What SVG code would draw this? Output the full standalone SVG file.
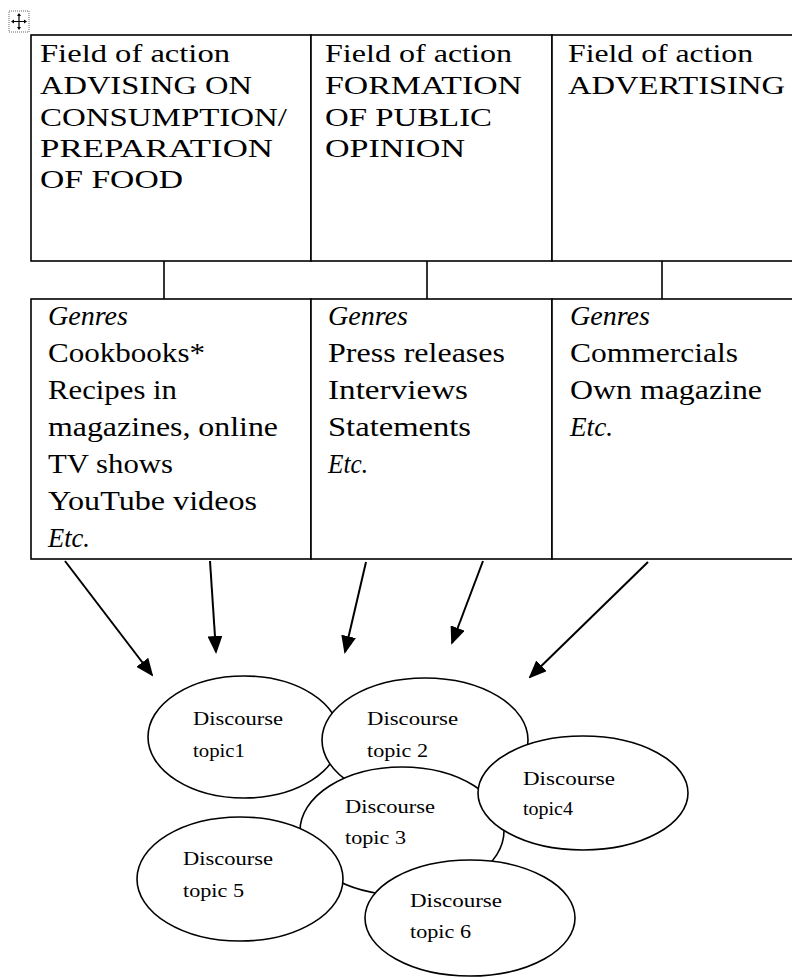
<svg xmlns="http://www.w3.org/2000/svg" width="792" height="978" viewBox="0 0 792 978">
<style>
.cell{fill:#fff;stroke:#000;stroke-width:1.6}
.ell{fill:#fff;stroke:#000;stroke-width:1.6}
.t{font-family:"Liberation Serif",serif;font-size:26px;fill:#000}
.g{font-family:"Liberation Serif",serif;font-size:28px;fill:#000}
.i{font-style:italic}
.d{font-family:"Liberation Serif",serif;font-size:19px;fill:#000}
.ln{stroke:#000;stroke-width:1.6;fill:none}
.ar{stroke:#000;stroke-width:2;fill:none;marker-end:url(#ah)}
</style>
<defs>
<marker id="ah" markerWidth="18" markerHeight="15" refX="16" refY="7.5" orient="auto" markerUnits="userSpaceOnUse">
<path d="M0,0 L18,7.5 L0,15 Z" fill="#000"/>
</marker>
</defs>
<rect width="792" height="978" fill="#fff"/>
<g id="move-handle">
<rect x="9" y="11" width="20" height="21" fill="none" stroke="#666" stroke-width="1" stroke-dasharray="1,1"/>
<path d="M19,14 V29 M12,21.5 H26" stroke="#000" stroke-width="1.2"/>
<path d="M19,13 L17,16 L21,16 Z M19,30 L17,27 L21,27 Z M11,21.5 L14,19.5 L14,23.5 Z M27,21.5 L24,19.5 L24,23.5 Z" fill="#000"/>
</g>
<g id="connectors">
<line class="ln" x1="164" y1="261" x2="164" y2="299"/>
<line class="ln" x1="427" y1="261" x2="427" y2="299"/>
<line class="ln" x1="662" y1="261" x2="662" y2="299"/>
<line class="ar" x1="65" y1="561" x2="152" y2="675"/>
<line class="ar" x1="210" y1="561" x2="216" y2="652"/>
<line class="ar" x1="366" y1="562" x2="345" y2="652"/>
<line class="ar" x1="483" y1="561" x2="452" y2="643"/>
<line class="ar" x1="648" y1="562" x2="530" y2="677"/>
</g>
<g id="field-advising">
<rect class="cell" x="31" y="35" width="280" height="226"/>
<text class="t" x="40" y="62" textLength="190" lengthAdjust="spacingAndGlyphs">Field of action</text>
<text class="t" x="40" y="94" textLength="212" lengthAdjust="spacingAndGlyphs">ADVISING ON</text>
<text class="t" x="40" y="126" textLength="247" lengthAdjust="spacingAndGlyphs">CONSUMPTION/</text>
<text class="t" x="40" y="157" textLength="233" lengthAdjust="spacingAndGlyphs">PREPARATION</text>
<text class="t" x="40" y="188" textLength="143" lengthAdjust="spacingAndGlyphs">OF FOOD</text>
</g>
<g id="field-public-opinion">
<rect class="cell" x="311" y="35" width="241" height="226"/>
<text class="t" x="325" y="62" textLength="187" lengthAdjust="spacingAndGlyphs">Field of action</text>
<text class="t" x="325" y="94" textLength="197" lengthAdjust="spacingAndGlyphs">FORMATION</text>
<text class="t" x="325" y="126" textLength="167" lengthAdjust="spacingAndGlyphs">OF PUBLIC</text>
<text class="t" x="325" y="157" textLength="140" lengthAdjust="spacingAndGlyphs">OPINION</text>
</g>
<g id="field-advertising">
<rect class="cell" x="552" y="35" width="250" height="226"/>
<text class="t" x="568" y="62" textLength="185" lengthAdjust="spacingAndGlyphs">Field of action</text>
<text class="t" x="568" y="94" textLength="217" lengthAdjust="spacingAndGlyphs">ADVERTISING</text>
</g>
<g id="genres-advising">
<rect class="cell" x="31" y="299" width="280" height="260"/>
<text class="g i" x="48" y="325" textLength="80" lengthAdjust="spacingAndGlyphs">Genres</text>
<text class="g" x="48" y="362" textLength="157" lengthAdjust="spacingAndGlyphs">Cookbooks*</text>
<text class="g" x="48" y="399" textLength="129" lengthAdjust="spacingAndGlyphs">Recipes in</text>
<text class="g" x="48" y="436" textLength="230" lengthAdjust="spacingAndGlyphs">magazines, online</text>
<text class="g" x="48" y="473" textLength="125" lengthAdjust="spacingAndGlyphs">TV shows</text>
<text class="g" x="48" y="510" textLength="209" lengthAdjust="spacingAndGlyphs">YouTube videos</text>
<text class="g i" x="48" y="547" textLength="42" lengthAdjust="spacingAndGlyphs">Etc.</text>
</g>
<g id="genres-public-opinion">
<rect class="cell" x="311" y="299" width="241" height="260"/>
<text class="g i" x="328" y="325" textLength="80" lengthAdjust="spacingAndGlyphs">Genres</text>
<text class="g" x="328" y="362" textLength="177" lengthAdjust="spacingAndGlyphs">Press releases</text>
<text class="g" x="328" y="399" textLength="140" lengthAdjust="spacingAndGlyphs">Interviews</text>
<text class="g" x="328" y="436" textLength="143" lengthAdjust="spacingAndGlyphs">Statements</text>
<text class="g i" x="328" y="473" textLength="40" lengthAdjust="spacingAndGlyphs">Etc.</text>
</g>
<g id="genres-advertising">
<rect class="cell" x="552" y="299" width="250" height="260"/>
<text class="g i" x="570" y="325" textLength="80" lengthAdjust="spacingAndGlyphs">Genres</text>
<text class="g" x="570" y="362" textLength="168" lengthAdjust="spacingAndGlyphs">Commercials</text>
<text class="g" x="570" y="399" textLength="192" lengthAdjust="spacingAndGlyphs">Own magazine</text>
<text class="g i" x="570" y="436" textLength="43" lengthAdjust="spacingAndGlyphs">Etc.</text>
</g>
<g id="topic1">
<ellipse class="ell" cx="244" cy="737" rx="96" ry="61"/>
<text class="d" x="193" y="725" textLength="90" lengthAdjust="spacingAndGlyphs">Discourse</text>
<text class="d" x="193" y="757" textLength="52" lengthAdjust="spacingAndGlyphs">topic1</text>
</g>
<g id="topic2">
<ellipse class="ell" cx="425" cy="740" rx="103" ry="62"/>
<text class="d" x="367" y="725" textLength="91" lengthAdjust="spacingAndGlyphs">Discourse</text>
<text class="d" x="367" y="757" textLength="61" lengthAdjust="spacingAndGlyphs">topic 2</text>
</g>
<g id="topic3">
<ellipse class="ell" cx="402" cy="831" rx="102" ry="64"/>
<text class="d" x="345" y="813" textLength="90" lengthAdjust="spacingAndGlyphs">Discourse</text>
<text class="d" x="345" y="844" textLength="61" lengthAdjust="spacingAndGlyphs">topic 3</text>
</g>
<g id="topic4">
<ellipse class="ell" cx="583" cy="793" rx="105" ry="57"/>
<text class="d" x="523" y="785" textLength="92" lengthAdjust="spacingAndGlyphs">Discourse</text>
<text class="d" x="523" y="815" textLength="50" lengthAdjust="spacingAndGlyphs">topic4</text>
</g>
<g id="topic5">
<ellipse class="ell" cx="240" cy="879" rx="103" ry="62"/>
<text class="d" x="183" y="865" textLength="90" lengthAdjust="spacingAndGlyphs">Discourse</text>
<text class="d" x="183" y="897" textLength="61" lengthAdjust="spacingAndGlyphs">topic 5</text>
</g>
<g id="topic6">
<ellipse class="ell" cx="470" cy="918" rx="105" ry="58"/>
<text class="d" x="410" y="907" textLength="92" lengthAdjust="spacingAndGlyphs">Discourse</text>
<text class="d" x="410" y="938" textLength="61" lengthAdjust="spacingAndGlyphs">topic 6</text>
</g>
</svg>
